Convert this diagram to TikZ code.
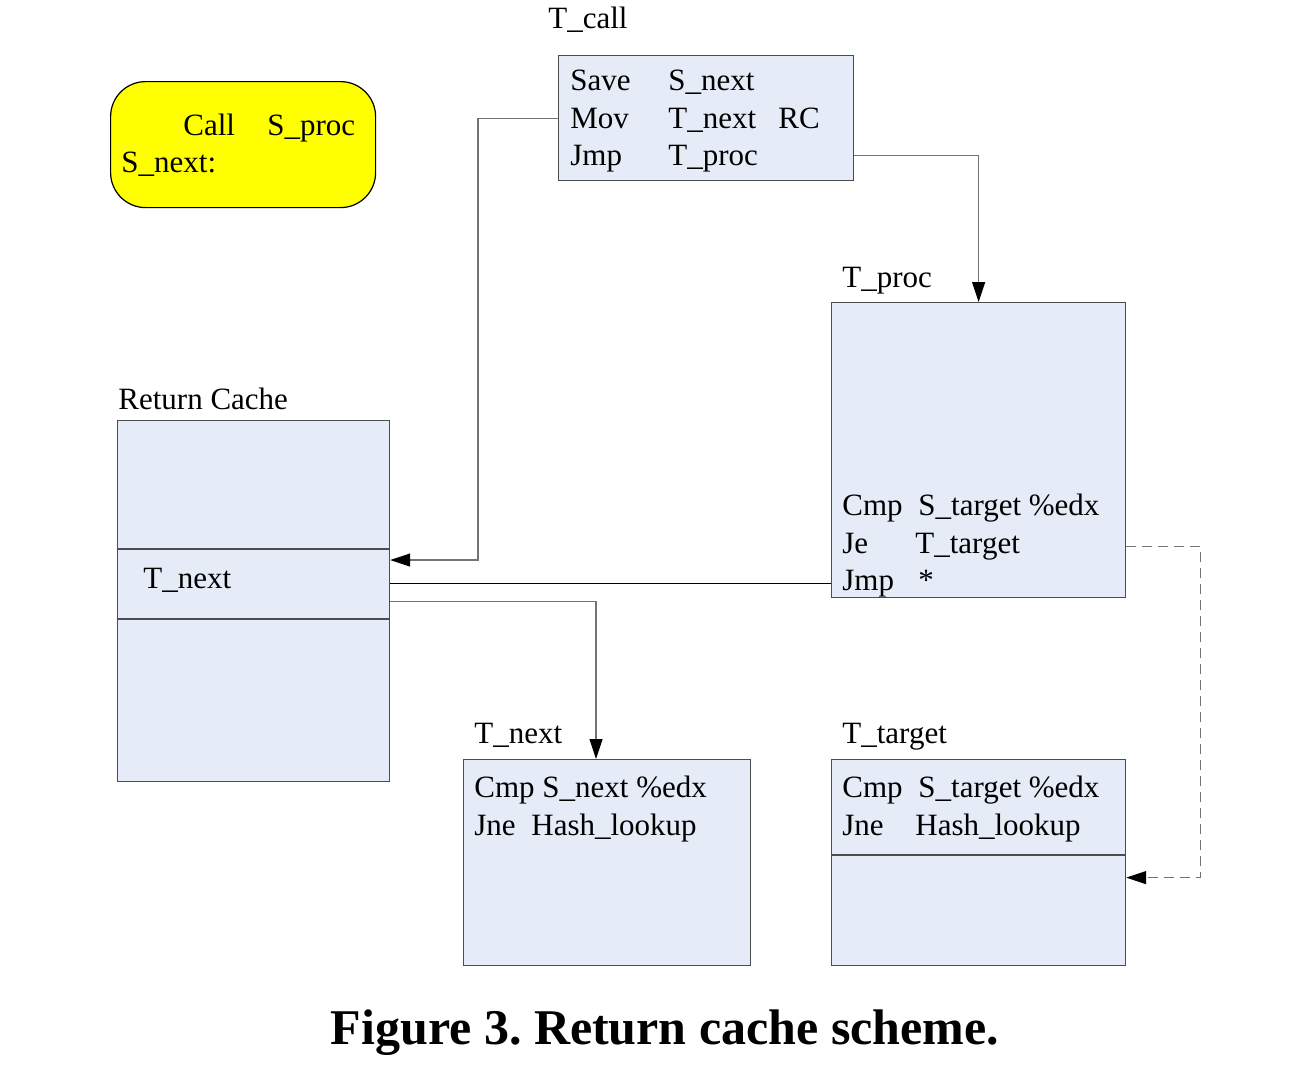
\documentclass[tikz,border=0pt]{standalone}
\usepackage{fontspec}
\setmainfont{Liberation Serif}
\usepackage{xcolor}
\usetikzlibrary{arrows.meta,positioning,calc}
\definecolor{codefill}{RGB}{230,236,247}
\definecolor{callfill}{RGB}{255,255,0}

\begin{document}
\begin{tikzpicture}[
    x=0.5pt, y=-0.5pt,
    >={Triangle[length=10pt,width=6.5pt,color=black]},
    font=\fontsize{15.5}{18.6}\selectfont,
    block/.style={draw=black!70, fill=codefill, line width=0.6pt,
                  anchor=north west, inner sep=0pt},
    callbox/.style={draw=black, fill=callfill, line width=0.6pt,
                  rounded corners=17.5pt, anchor=north west, inner sep=0pt},
    code/.style={anchor=base west, inner sep=0pt},
    flow/.style={line width=0.6pt, draw=black!55},
    jump/.style={line width=0.6pt, draw=black},
    maybe/.style={line width=0.6pt, draw=black!55, dash pattern=on 5pt off 3pt},
]
\useasboundingbox (0,0) rectangle (1310,1066);

% --- source side: the call site ---
\node[callbox, minimum width=132.5pt, minimum height=63pt] (site) at (110,81) {};
\node[code] (call) at (183,135) {\makebox[42pt][l]{Call}S\_proc};
\node[code] (snext) at (121,172) {S\_next:};

% --- translated call ---
\node[code] (tcall-tag) at (548,28) {T\_call};
\node[block, minimum width=147.5pt, minimum height=62.5pt] (tcall) at (558,55) {};
\node[code] (tcall-1) at (570,90)  {\makebox[49pt][l]{Save}S\_next};
\node[code] (tcall-2) at (570,128) {\makebox[49pt][l]{Mov}\makebox[55pt][l]{T\_next}RC};
\node[code] (tcall-3) at (570,165) {\makebox[49pt][l]{Jmp}T\_proc};

% --- translated procedure (return site) ---
\node[code] (tproc-tag) at (842,287) {T\_proc};
\node[block, minimum width=147pt, minimum height=147.5pt] (tproc) at (831,302) {};
\node[code] (tproc-1) at (842,515) {\makebox[38pt][l]{Cmp}S\_target \%edx};
\node[code] (tproc-2) at (842,553) {\makebox[36.5pt][l]{Je}T\_target};
\node[code] (tproc-3) at (842,590) {\makebox[38pt][l]{Jmp}*};

% --- return cache ---
\node[code] (rc-tag) at (118,409) {Return Cache};
\node[block, minimum width=136pt, minimum height=180.5pt] (rc) at (117,420) {};
\draw[block] ($(rc.north west)+(0,129)$) -- ($(rc.north east)+(0,129)$);
\draw[block] ($(rc.north west)+(0,199)$) -- ($(rc.north east)+(0,199)$);
\node[code] (rc-entry) at (143,588) {T\_next};

% --- return targets ---
\node[code] (tnext-tag) at (474,743) {T\_next};
\node[block, minimum width=143.5pt, minimum height=103pt] (tnext) at (463,759) {};
\node[code] (tnext-1) at (474,797) {Cmp S\_next \%edx};
\node[code] (tnext-2) at (474,835) {\makebox[28.5pt][l]{Jne}Hash\_lookup};

\node[code] (ttarget-tag) at (842,743) {T\_target};
\node[block, minimum width=147pt, minimum height=103pt] (ttarget) at (831,759) {};
\draw[block] ($(ttarget.north west)+(0,96)$) -- ($(ttarget.north east)+(0,96)$);
\node[code] (ttarget-1) at (842,797) {\makebox[38pt][l]{Cmp}S\_target \%edx};
\node[code] (ttarget-2) at (842,835) {\makebox[36.5pt][l]{Jne}Hash\_lookup};

% --- connectors ---
\draw[flow,->] (tcall.west) -- ++(-80,0) |- ($(rc.north east)+(0,140)$);
\draw[flow,->] ($(tcall.east)+(0,37)$) -| (tproc.north);
\draw[jump] ($(tproc.south west)+(0,-15)$) coordinate (jmp) -- (jmp -| rc.east);
\draw[flow,->] (rc.east) -| ($(tnext.north west)+(133,0)$);
\draw[maybe,->] ($(tproc.south east)+(0,-52)$) -- ++(74,0) |- ($(ttarget.east)+(0,15)$);

% --- caption ---
\node[anchor=base, inner sep=0pt, font=\bfseries\fontsize{25}{30}\selectfont]
  (caption) at (665,1044) {Figure 3.\ Return cache scheme.};
\end{tikzpicture}
\end{document}
